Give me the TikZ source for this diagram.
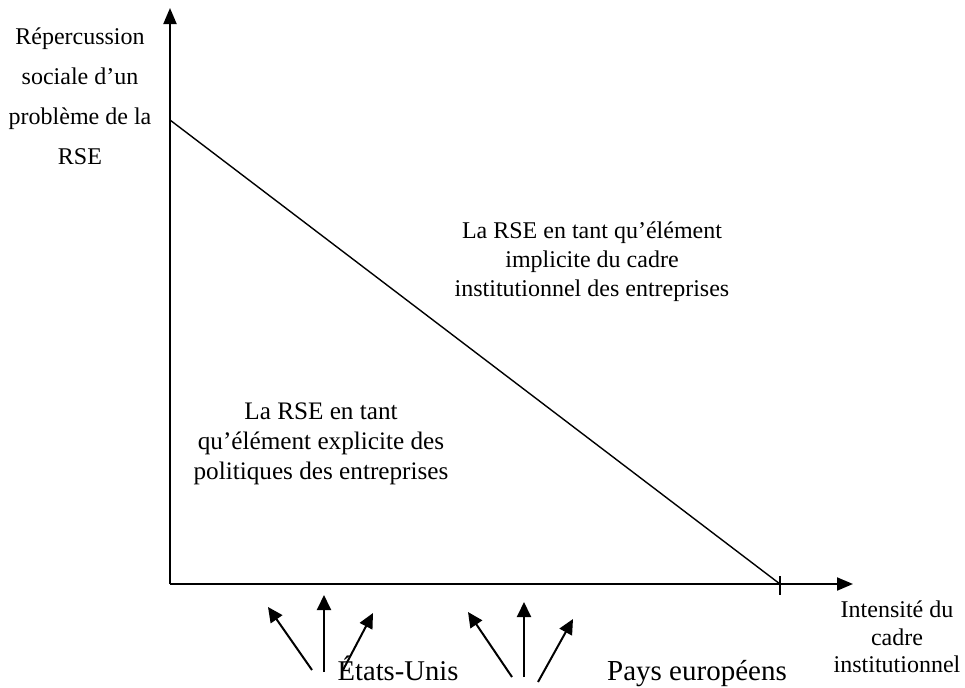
\documentclass[tikz,border=0pt]{standalone}
\usepackage{fontspec}
\setmainfont{Liberation Serif}
\usetikzlibrary{arrows.meta,positioning}

\begin{document}
\begin{tikzpicture}[x=0.5pt,y=-0.5pt,>={Triangle[length=8pt,width=6.5pt]}]
    \tikzstyle{axis}=[line width=1pt]
    \tikzstyle{border}=[line width=0.7pt]
    \tikzstyle{push}=[line width=1pt,>={Triangle[length=7.5pt,width=7pt]}]
    \tikzstyle{lbl}=[font=\fontsize{12}{20}\selectfont,align=center,inner sep=0pt]
    \tikzstyle{zone}=[font=\fontsize{12}{14.5}\selectfont,align=center,inner sep=0pt]
    \tikzstyle{country}=[font=\fontsize{14.3}{16}\selectfont,inner sep=0pt,anchor=base]

    \useasboundingbox (0,0) rectangle (965,687);

    \coordinate (origin) at (170,584);
    \coordinate (ytop) at (170,8);
    \coordinate (xend) at (853,584);
    \coordinate (start) at (170,120);
    \coordinate (stop) at (780,584);
    \coordinate (tickup) at (780,576);
    \coordinate (tickdown) at (780,595);

    \draw[axis,->] (origin) -- (ytop);
    \draw[axis,->] (origin) -- (xend);
    \draw[border] (start) -- (stop);
    \draw[border] (tickup) -- (tickdown);

    \node[lbl](ylab) at (80,96){Répercussion\\sociale d’un\\problème de la\\RSE};
    \node[lbl,font=\fontsize{12}{13.8}\selectfont](xlab) at (897,637){Intensité du\\cadre\\institutionnel};

    \node[zone](implicit) at (592,262){La RSE en tant qu’élément\\implicite du cadre\\institutionnel des entreprises};
    \node[zone,font=\fontsize{12.6}{15}\selectfont](explicit) at (321,444){La RSE en tant\\qu’élément explicite des\\politiques des entreprises};

    \node[country](us) at (398,680){États-Unis};
    \node[country,font=\fontsize{14.5}{16}\selectfont](eu) at (697,680){Pays européens};

    \foreach \bx/\by/\tx/\ty [count=\i] in {312/670/268/607,324/672/324/595,343/670/373/613,512/677/468/612,524/677/524/602,538/682/573/619}{
      \coordinate (base\i) at (\bx,\by);
      \coordinate (tip\i) at (\tx,\ty);
      \draw[push,->] (base\i) -- (tip\i);
    }
  \end{tikzpicture}
\end{document}
